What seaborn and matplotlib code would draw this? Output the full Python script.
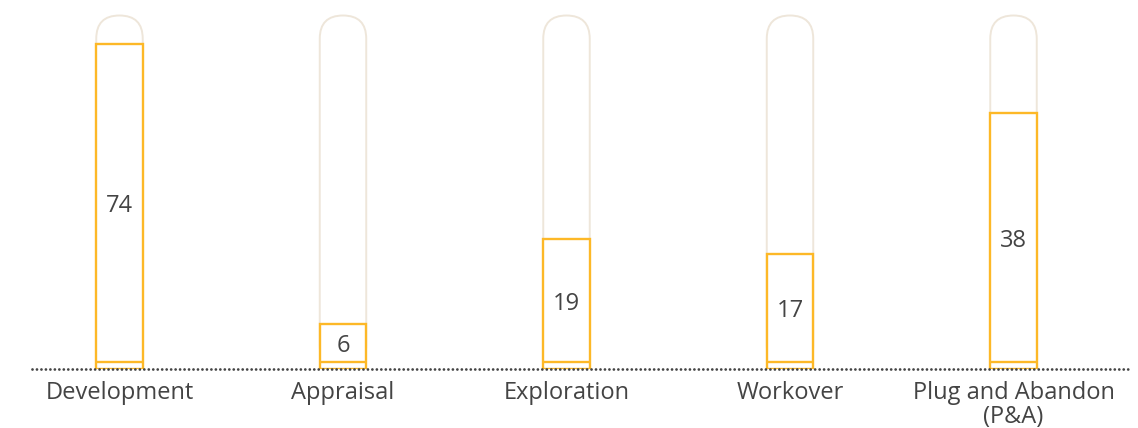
import matplotlib

matplotlib.use("Agg")
import matplotlib.pyplot as plt  # noqa: E402
import seaborn as sns  # noqa: E402
from matplotlib.patches import FancyBboxPatch  # noqa: E402

# --- data ------------------------------------------------------------------
categories = ["Development", "Appraisal", "Exploration", "Workover",
              "Plug and Abandon\n(P&A)"]
counts = [74, 6, 19, 17, 38]                    # printed in the bars
fill_pct = [91.8, 12.7, 36.8, 32.4, 72.4]       # bar height, % of the pill
capacity = 100                                   # full pill height
base_strip = 1.85                                # thin base segment

ORANGE = "#FDB827"
PILL = "#EEE6DA"
TEXT = "#444444"

sns.set_style("white")
plt.rcParams["font.family"] = ["Open Sans", "DejaVu Sans"]

fig = plt.figure(figsize=(11.38, 4.28), dpi=100)
ax = fig.add_axes([0.0068, 0.139, 0.982, 0.8248])

sns.barplot(x=categories, y=fill_pct, width=0.208, color="white",
            edgecolor=ORANGE, linewidth=1.7, saturation=1, zorder=3, ax=ax)
ax.set_xlim(-0.5, 4.5)
ax.set_ylim(0, capacity)

bars = list(ax.patches)
ax.bar_label(ax.containers[0], labels=[str(c) for c in counts],
             label_type="center", fontsize=17, color=TEXT)

# rounded "pill" behind each bar, same x extent as the bar
fig.canvas.draw()
px_x = ax.transData.transform((1, 0))[0] - ax.transData.transform((0, 0))[0]
px_y = ax.transData.transform((0, 1))[1] - ax.transData.transform((0, 0))[1]
for b in bars:
    w = b.get_width()
    rx = w / 2
    ry = rx * px_x / px_y
    pill = FancyBboxPatch((b.get_x(), 0), w, capacity,
                          boxstyle=f"round,pad=0,rounding_size={rx}",
                          mutation_aspect=ry / rx, facecolor="none",
                          edgecolor=PILL, linewidth=1.4, zorder=1,
                          clip_on=False)
    ax.add_patch(pill)
    ax.hlines(base_strip, b.get_x(), b.get_x() + w, color=ORANGE,
              linewidth=1.7, zorder=4)

# dotted baseline
ax.axhline(0, xmin=0.0215, xmax=1.0054, color=TEXT, linewidth=2.0,
           linestyle=(0, (0.01, 1.6)), dash_capstyle="round",
           clip_on=False, zorder=5)

ax.set_yticks([])
ax.tick_params(axis="x", length=0, pad=9, labelsize=17, labelcolor=TEXT)
ax.set_xlabel("")
ax.set_ylabel("")
for s in ax.spines.values():
    s.set_visible(False)
for t in ax.get_xticklabels():
    t.set_linespacing(1.0)

fig.savefig("out.png", dpi=100)
